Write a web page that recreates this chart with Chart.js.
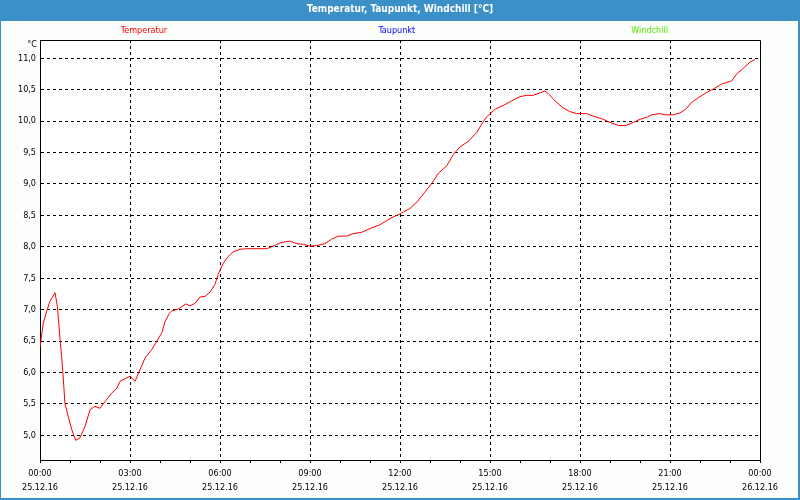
<!DOCTYPE html>
<html>
<head>
<meta charset="utf-8">
<script src="https://cdn.jsdelivr.net/npm/chart.js@4.4.0/dist/chart.umd.min.js"></script>
<style>
html,body{margin:0;padding:0;background:#fcfefc;}
canvas{display:block;}
</style>
</head>
<body>
<canvas id="c" width="800" height="500"></canvas>
<script>
// ---- data ----
const chartTitle = 'Temperatur, Taupunkt, Windchill [°C]';
const seriesNames = ['Temperatur', 'Taupunkt', 'Windchill'];
const seriesColors = ['#ff0000', '#0000ff', '#55e800'];
const yUnit = '°C';

// hours after 25.12.16 00:00
const hours = [
  0.00, 0.11, 0.22, 0.33, 0.50, 0.58, 0.67, 0.72, 0.78, 0.83, 0.94, 1.06, 1.19, 1.33, 1.50,
  1.67, 1.83, 2.00, 2.17, 2.39, 2.56, 2.67, 3.00, 3.17, 3.33, 3.50, 3.72, 4.06, 4.17, 4.31,
  4.39, 4.61, 4.86, 5.00, 5.17, 5.33, 5.50, 5.67, 5.83, 5.94, 6.11, 6.28, 6.44, 6.67, 6.89,
  7.11, 7.33, 7.56, 7.78, 8.00, 8.17, 8.33, 8.56, 8.78, 9.00, 9.22, 9.50, 9.72, 9.94, 10.22,
  10.44, 10.72, 11.00, 11.33, 11.67, 12.02, 12.33, 12.56, 12.83, 13.06, 13.28, 13.56, 13.78, 14.00, 14.28,
  14.56, 14.72, 14.89, 15.17, 15.44, 15.72, 16.00, 16.22, 16.44, 16.67, 16.83, 16.94, 17.17, 17.44, 17.67,
  17.89, 18.22, 18.44, 18.72, 19.00, 19.28, 19.53, 19.78, 20.00, 20.22, 20.39, 20.67, 20.83, 21.11, 21.33,
  21.53, 21.72, 21.94, 22.17, 22.44, 22.72, 23.06, 23.22, 23.44, 23.67, 23.83
];
const temperatur = [
  6.40, 6.79, 6.97, 7.13, 7.27, 7.05, 6.52, 6.26, 5.88, 5.51, 5.30, 5.09, 4.92, 4.96, 5.14,
  5.41, 5.46, 5.43, 5.54, 5.67, 5.75, 5.86, 5.94, 5.86, 6.04, 6.23, 6.36, 6.63, 6.81, 6.94,
  6.98, 7.01, 7.09, 7.06, 7.10, 7.20, 7.21, 7.28, 7.40, 7.56, 7.74, 7.85, 7.92, 7.96, 7.97,
  7.97, 7.97, 7.97, 8.01, 8.06, 8.08, 8.09, 8.05, 8.04, 8.01, 8.02, 8.05, 8.12, 8.17, 8.17,
  8.21, 8.23, 8.29, 8.35, 8.45, 8.53, 8.61, 8.71, 8.87, 9.01, 9.17, 9.29, 9.47, 9.59, 9.68,
  9.82, 9.95, 10.07, 10.19, 10.25, 10.32, 10.39, 10.41, 10.41, 10.45, 10.48, 10.44, 10.32, 10.21, 10.15,
  10.12, 10.12, 10.08, 10.04, 9.98, 9.93, 9.93, 9.98, 10.03, 10.06, 10.10, 10.12, 10.10, 10.10, 10.13,
  10.19, 10.30, 10.37, 10.44, 10.51, 10.59, 10.64, 10.75, 10.84, 10.94, 10.98
];
const taupunkt = [];
const windchill = [];

const yTicks = [5.0, 5.5, 6.0, 6.5, 7.0, 7.5, 8.0, 8.5, 9.0, 9.5, 10.0, 10.5, 11.0];
const xTimeLabels = ['00:00', '03:00', '06:00', '09:00', '12:00', '15:00', '18:00', '21:00', '00:00'];
const xDateLabels = ['25.12.16', '25.12.16', '25.12.16', '25.12.16', '25.12.16', '25.12.16', '25.12.16', '25.12.16', '26.12.16'];

// ---- styling ----
const FONT = '"DejaVu Sans Condensed", "DejaVu Sans", "Liberation Sans", sans-serif';
const BLUE = '#3c90c8';
const BG = '#fcfefc';

const framePlugin = {
  id: 'frame',
  beforeDraw(chart) {
    const {ctx, width, height, chartArea: a} = chart;
    ctx.save();
    ctx.fillStyle = BG;
    ctx.fillRect(0, 0, width, height);
    ctx.fillStyle = '#ffffff';
    ctx.fillRect(a.left, a.top, a.right - a.left, a.bottom - a.top);
    ctx.fillStyle = BLUE;
    ctx.fillRect(0, 0, width, 21);
    ctx.restore();
  },
  afterDraw(chart) {
    const {ctx, width, height, chartArea: a} = chart;
    ctx.save();
    // outer frame
    ctx.fillStyle = BLUE;
    ctx.fillRect(0, 21, 1, height - 21);
    ctx.fillRect(width - 2, 21, 2, height - 21);
    ctx.fillRect(0, height - 2, width, 2);
    // plot box top and right
    ctx.strokeStyle = '#000';
    ctx.lineWidth = 1;
    const l = Math.round(a.left) + 0.5, t = Math.round(a.top) + 0.5;
    const r = Math.round(a.right) + 0.5, b = Math.round(a.bottom) + 0.5;
    ctx.beginPath();
    ctx.moveTo(l, t); ctx.lineTo(r, t); ctx.lineTo(r, b);
    ctx.stroke();
    // unit label
    ctx.font = '9px ' + FONT;
    ctx.fillStyle = '#000';
    ctx.textAlign = 'right';
    ctx.textBaseline = 'middle';
    ctx.fillText(yUnit, a.left - 3, 45);
    // legend texts
    const centers = [0.18, 0.496, 0.812];
    ctx.textAlign = 'center';
    chart.data.datasets.forEach((ds, i) => {
      ctx.fillStyle = ds.borderColor;
      ctx.fillText(ds.label, width * centers[i], 30.5);
    });
    ctx.restore();
  }
};

const datasets = [temperatur, taupunkt, windchill].map((vals, i) => ({
  label: seriesNames[i],
  data: vals.map((v, j) => ({x: hours[j], y: v})),
  borderColor: seriesColors[i],
  backgroundColor: seriesColors[i],
  borderWidth: 1,
  pointRadius: 0,
  tension: 0,
  fill: false
}));

new Chart(document.getElementById('c'), {
  type: 'line',
  data: {datasets},
  plugins: [framePlugin],
  options: {
    responsive: false,
    animation: false,
    devicePixelRatio: 1,
    layout: {padding: 0},
    plugins: {
      legend: {display: false},
      tooltip: {enabled: false},
      title: {
        display: true,
        text: chartTitle,
        color: '#ffffff',
        font: {family: FONT, size: 10, weight: 'bold', lineHeight: 1.2},
        padding: {top: 3, bottom: 25}
      }
    },
    scales: {
      x: {
        type: 'linear',
        min: 0,
        max: 24,
        afterBuildTicks: s => { s.ticks = []; for (let h = 0; h <= 24; h++) s.ticks.push({value: h}); },
        afterFit: s => { s.height = 40; },
        grid: {
          color: c => (c.tick && c.tick.value % 3 === 0 && c.tick.value > 0 && c.tick.value < 24) ? '#000' : 'rgba(0,0,0,0)',
          tickColor: '#000',
          tickLength: 3,
          drawTicks: true
        },
        border: {display: true, color: '#000', width: 1, dash: [3, 3]},
        ticks: {
          autoSkip: false,
          maxRotation: 0,
          minRotation: 0,
          padding: 4,
          color: '#000',
          font: {family: FONT, size: 9, lineHeight: 1.55},
          callback: v => (v % 3 === 0) ? [xTimeLabels[v / 3], xDateLabels[v / 3]] : ''
        }
      },
      y: {
        type: 'linear',
        min: 4.607,
        max: 11.291,
        afterBuildTicks: s => { s.ticks = yTicks.map(v => ({value: v})); },
        afterFit: s => { s.width = 40; },
        grid: {color: '#000', drawTicks: false},
        border: {display: true, color: '#000', width: 1, dash: [3, 3]},
        ticks: {
          padding: 4,
          color: '#000',
          font: {family: FONT, size: 9},
          callback: v => Number(v).toFixed(1).replace('.', ',')
        }
      },
      yR: {
        type: 'linear',
        position: 'right',
        display: true,
        afterFit: s => { s.width = 40; },
        grid: {display: false, drawOnChartArea: false},
        border: {display: false},
        ticks: {display: false}
      }
    }
  }
});
</script>
</body>
</html>
